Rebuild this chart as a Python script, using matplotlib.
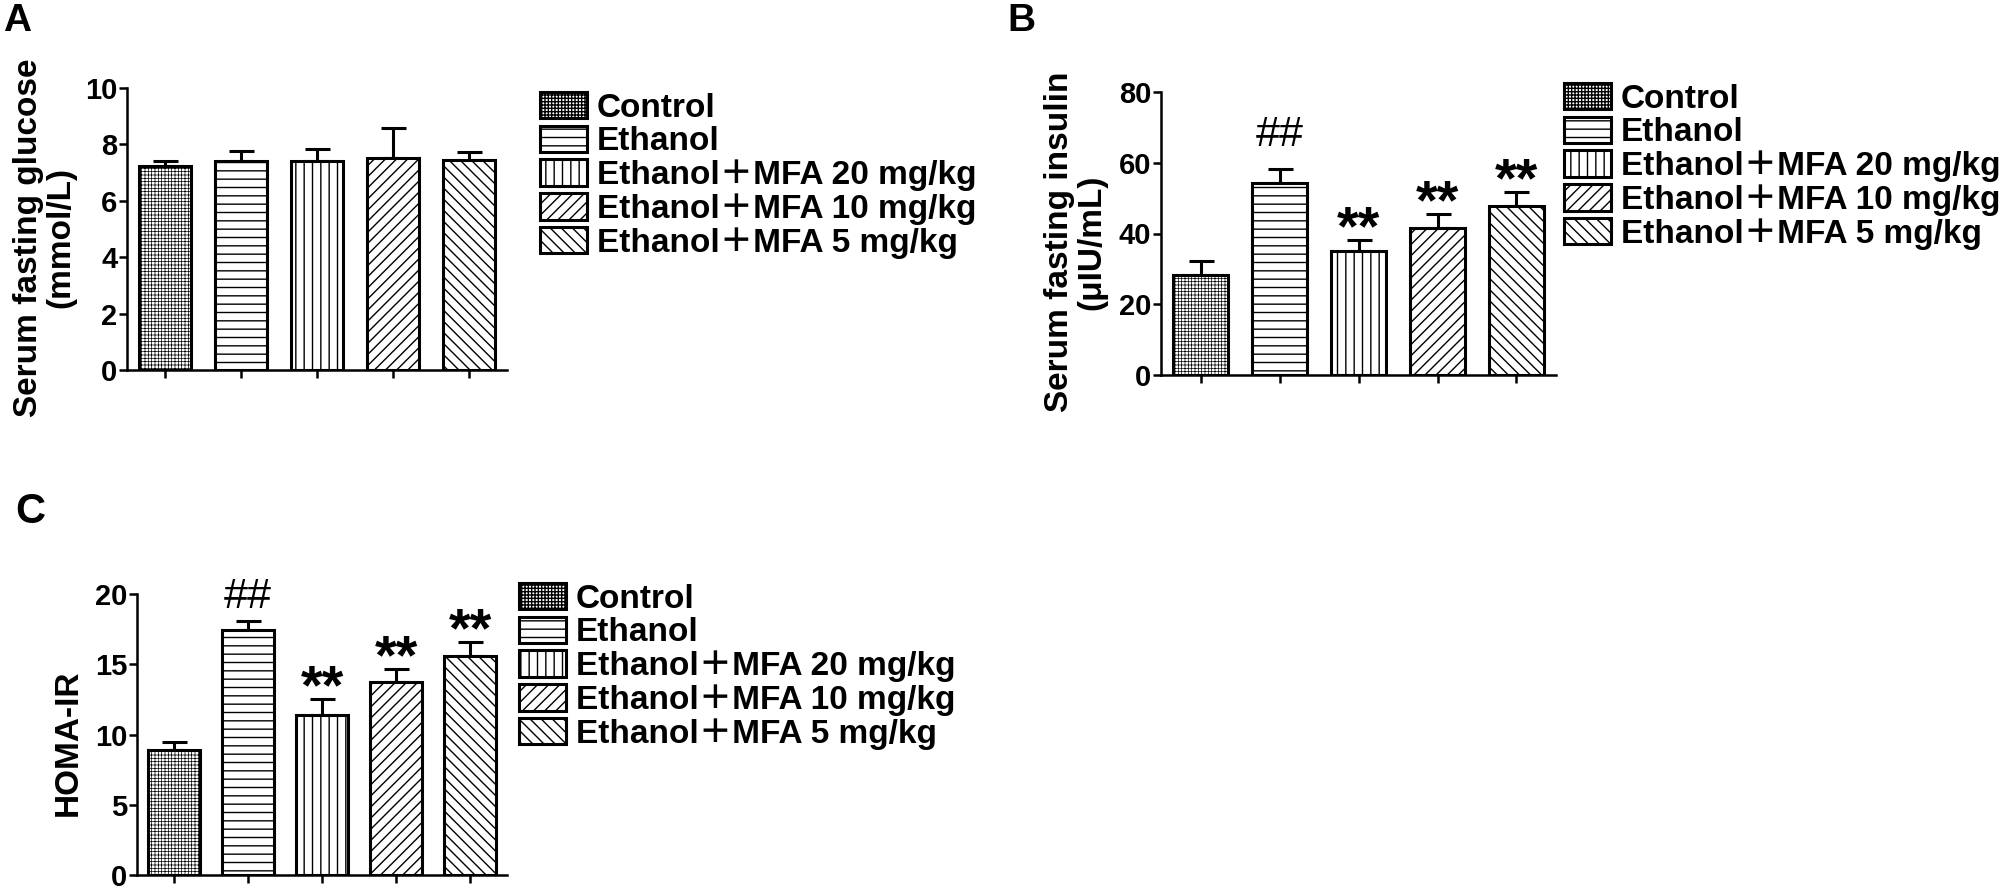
import numpy as np
import matplotlib
matplotlib.use('Agg')
from matplotlib import pyplot as plt

plt.rcParams['font.family'] = ['Liberation Sans', 'Noto Sans CJK SC', 'DejaVu Sans']

groups = ['Control', 'Ethanol', 'Ethanol\uff0bMFA 20 mg/kg',
          'Ethanol\uff0bMFA 10 mg/kg', 'Ethanol\uff0bMFA 5 mg/kg']
hatches = ['+++++', '--', '||', '///', '\\\\\\']
hatch_lw = [0.5, 1.0, 1.0, 1.0, 1.0]

glucose = [7.25, 7.4, 7.4, 7.5, 7.45]
glucose_sem = [0.17, 0.38, 0.45, 1.07, 0.28]

insulin = [28.2, 54.4, 35.1, 41.6, 47.8]
insulin_sem = [4.0, 3.8, 3.0, 3.8, 3.9]
insulin_marks = ['', '##', '**', '**', '**']

homa = [8.9, 17.47, 11.4, 13.77, 15.58]
homa_sem = [0.55, 0.63, 1.1, 0.87, 1.0]
homa_marks = ['', '##', '**', '**', '**']

W, H = 2008, 889
fig = plt.figure(figsize=(W / 100, H / 100), dpi=100)


def px_axes(left, top, right, bottom):
    return fig.add_axes([left / W, 1 - bottom / H, (right - left) / W, (bottom - top) / H])


def panel(ax, vals, sem, marks, ymax, ystep, ylabel, leg_xy, labelpad, hash_off=3):
    x = np.arange(len(vals))
    bars = []
    for i in range(len(vals)):
        with plt.rc_context({'hatch.linewidth': hatch_lw[i]}):
            b = ax.bar(x[i], vals[i], width=0.69, color='white', edgecolor='black',
                       linewidth=2.2, hatch=hatches[i], zorder=2)
        bars.append(b.patches[0])
    ax.errorbar(x, vals, yerr=[np.zeros(len(vals)), sem], fmt='none', ecolor='black',
                elinewidth=2.2, capsize=9, capthick=2.2, zorder=1)
    for xi, v, s, m in zip(x, vals, sem, marks):
        if m == '**':
            ax.annotate(m, (xi, v + s), xytext=(0, -3), textcoords='offset points',
                        ha='center', va='baseline', fontsize=40, fontweight='bold')
        elif m:
            ax.annotate(m, (xi, v + s), xytext=(0, hash_off), textcoords='offset points',
                        ha='center', va='bottom', fontsize=31)
    ax.set_xlim(-0.5, len(vals) - 0.5)
    ax.set_ylim(0, ymax)
    ax.set_yticks(np.arange(0, ymax + 0.1, ystep))
    ax.set_xticks(x)
    ax.set_xticklabels([])
    for s in ['top', 'right']:
        ax.spines[s].set_visible(False)
    for s in ['left', 'bottom']:
        ax.spines[s].set_linewidth(1.8)
    ax.tick_params(axis='both', direction='out', length=6, width=1.8, pad=1)
    for t in ax.get_yticklabels():
        t.set_fontsize(21)
        t.set_fontweight('bold')
    ax.set_ylabel(ylabel, fontsize=24, fontweight='bold', linespacing=1.05, labelpad=labelpad)
    ax.yaxis.label.set_y(0.47)
    ax.legend(handles=bars, labels=groups, loc='upper left',
              bbox_to_anchor=(leg_xy[0] / W, 1 - leg_xy[1] / H),
              bbox_transform=fig.transFigure, frameon=False,
              prop={'size': 24, 'weight': 'bold'}, handlelength=1.41,
              handleheight=0.84, handletextpad=0.3, labelspacing=0.06,
              borderpad=0, borderaxespad=0)


axA = px_axes(127, 88, 507, 370)
panel(axA, glucose, glucose_sem, [''] * 5, 10, 2,
      'Serum fasting glucose\n(mmol/L)', (540, 92), 6)

axB = px_axes(1161, 92, 1556, 375)
panel(axB, insulin, insulin_sem, insulin_marks, 80, 20,
      'Serum fasting insulin\n(\u03bcIU/mL)', (1564, 83), 8, hash_off=10)

axC = px_axes(137, 594, 507, 875)
panel(axC, homa, homa_sem, homa_marks, 20, 5, 'HOMA-IR', (519, 583), 8)

fig.text(3 / W, 1 - 3 / H, 'A', fontsize=28, fontweight='bold', va='top', ha='left')
fig.text(1007 / W, 1 - 3 / H, 'B', fontsize=28, fontweight='bold', va='top', ha='left')
fig.text(15 / W, 1 - 492 / H, 'C', fontsize=30, fontweight='bold', va='top', ha='left')

fig.savefig('out.png', dpi=100, facecolor='white')
